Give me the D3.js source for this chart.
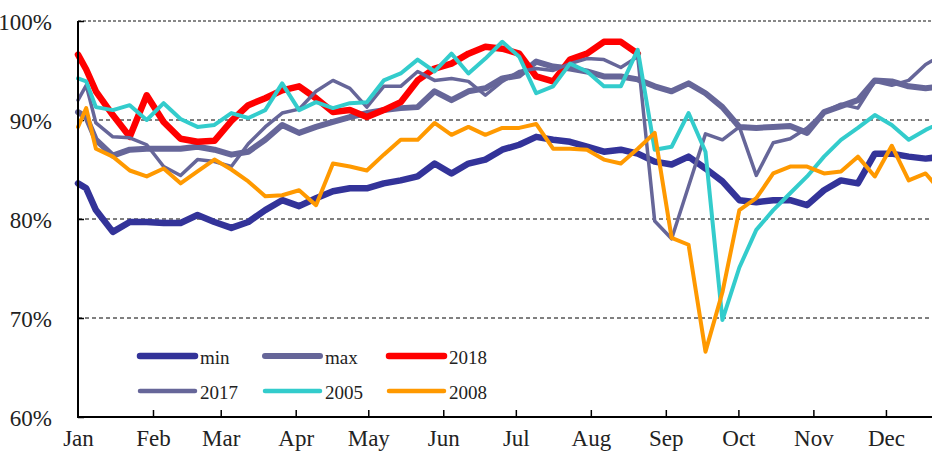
<!DOCTYPE html>
<html>
<head>
<meta charset="utf-8">
<script src="https://cdn.jsdelivr.net/npm/d3@7"></script>
<style>
  html, body { margin: 0; padding: 0; background: #fff; }
  svg { display: block; }
  text { font-family: "Liberation Serif", "DejaVu Serif", serif; fill: #222; }
</style>
</head>
<body>
<svg id="chart" width="932" height="451"></svg>
<script>
// ---------- DATA ----------
const monthLabels = ["Jan","Feb","Mar","Apr","May","Jun","Jul","Aug","Sep","Oct","Nov","Dec"];
const monthStartDays = [0,31,59,90,120,151,181,212,243,273,304,334];
const yTicks = [60,70,80,90,100];

// day-of-year of each weekly observation (first two are partial first-week points)
const obsDays = [0, 3.4, 7.4, 14.4, 21.4, 28.4, 35.4, 42.4, 49.4, 56.4, 63.4, 70.4, 77.4, 84.4,
  91.4, 98.4, 105.4, 112.4, 119.4, 126.4, 133.4, 140.4, 147.4, 154.4, 161.4, 168.4, 175.4,
  182.4, 189.4, 196.4, 203.4, 210.4, 217.4, 224.4, 231.4, 238.4, 245.4, 252.4, 259.4, 266.4,
  273.4, 280.4, 287.4, 294.4, 301.4, 308.4, 315.4, 322.4, 329.4, 336.4, 343.4, 350.4, 357.4];

const minVals = [83.6, 83.1, 80.9, 78.7, 79.7, 79.7, 79.6, 79.6, 80.4, 79.7, 79.1, 79.7, 80.9, 81.9,
  81.3, 82.1, 82.8, 83.1, 83.1, 83.6, 83.9, 84.3, 85.6, 84.6, 85.6, 86.0, 87.0, 87.5, 88.3, 88.0,
  87.8, 87.3, 86.8, 87.0, 86.6, 85.8, 85.5, 86.3, 85.1, 83.8, 81.9, 81.7, 81.9, 81.9, 81.4, 82.9,
  83.9, 83.6, 86.6, 86.6, 86.3, 86.1, 86.3];

const maxVals = [90.8, 90.3, 88.0, 86.4, 87.0, 87.1, 87.1, 87.1, 87.3, 87.0, 86.5, 86.8, 88.0, 89.5,
  88.7, 89.3, 89.8, 90.3, 90.7, 91.0, 91.2, 91.3, 92.9, 92.0, 92.9, 93.2, 94.2, 94.5, 95.9, 95.4,
  95.2, 94.9, 94.4, 94.4, 94.1, 93.4, 92.9, 93.7, 92.7, 91.3, 89.3, 89.2, 89.3, 89.4, 88.7, 90.8,
  91.4, 92.0, 94.0, 93.9, 93.4, 93.2, 93.4];

const vals2018 = [96.6, 95.1, 92.9, 90.5, 88.3, 92.5, 89.8, 88.1, 87.8, 87.9, 89.9, 91.5, 92.2, 93.0,
  93.4, 92.2, 90.8, 91.0, 90.3, 91.0, 91.8, 94.0, 95.2, 95.7, 96.7, 97.4, 97.2, 96.7, 94.4, 93.9,
  96.1, 96.7, 97.9, 97.9, 96.7];

const vals2017 = [92.0, 93.5, 89.7, 88.3, 88.2, 87.5, 85.3, 84.4, 86.0, 85.8, 85.3, 87.6, 89.3, 90.7,
  91.1, 92.9, 94.0, 93.2, 91.3, 93.4, 93.4, 94.9, 94.0, 94.2, 93.9, 92.5, 93.9, 94.9, 95.2, 95.0,
  95.7, 96.2, 96.1, 95.3, 96.4, 79.8, 78.0, 83.3, 88.6, 88.0, 89.3, 84.4, 87.7, 88.1, 89.2, 90.8,
  91.6, 91.2, 93.9, 93.5, 94.0, 95.6, 96.6];

const vals2005 = [94.2, 93.9, 91.3, 91.0, 91.5, 90.0, 91.7, 90.1, 89.3, 89.5, 90.7, 90.2, 91.0, 93.7,
  91.0, 91.8, 91.2, 91.7, 91.8, 94.0, 94.7, 96.1, 94.9, 96.7, 94.7, 96.2, 97.9, 96.4, 92.7, 93.4,
  95.7, 94.9, 93.4, 93.4, 97.1, 87.0, 87.3, 90.7, 86.8, 69.8, 75.1, 78.9, 80.9, 82.6, 84.3, 86.3,
  88.0, 89.2, 90.5, 89.5, 88.0, 89.0, 89.8];

const vals2008 = [89.3, 91.2, 87.1, 86.3, 84.9, 84.3, 85.1, 83.6, 84.8, 86.0, 85.0, 83.8, 82.3, 82.4,
  82.9, 81.4, 85.6, 85.3, 84.9, 86.5, 88.0, 88.0, 89.7, 88.5, 89.3, 88.5, 89.2, 89.2, 89.6, 87.1,
  87.1, 87.0, 86.0, 85.6, 87.1, 88.7, 78.1, 77.4, 66.6, 72.6, 80.9, 82.1, 84.6, 85.3, 85.3, 84.6,
  84.8, 86.3, 84.3, 87.4, 83.9, 84.6, 82.6];

const seriesNames = ["min","max","2018","2017","2005","2008"];
const seriesColors = ["#333399","#666699","#FF0000","#666699","#33CCCC","#FF9900"];
const seriesWidths = [6.5, 6, 6.5, 3.5, 4, 4];

// ---------- CHART ----------
const svg = d3.select("#chart");
const plotLeft = 78, plotTop = 21, plotBottom = 417;
const pxPerDay = 2.419;

const x = d3.scaleLinear().domain([0, 365]).range([plotLeft, plotLeft + 365 * pxPerDay]);
const y = d3.scaleLinear().domain([60, 100]).range([plotBottom, plotTop]);

const series = [minVals, maxVals, vals2018, vals2017, vals2005, vals2008].map((vals, i) => ({
  name: seriesNames[i], color: seriesColors[i], width: seriesWidths[i],
  points: vals.map((v, j) => ({ d: obsDays[j], v }))
}));

// gridlines
svg.append("g").selectAll("line").data(yTicks.filter(t => t > 60 && t < 100)).join("line")
  .attr("x1", plotLeft).attr("x2", 932).attr("y1", d => y(d)).attr("y2", d => y(d))
  .attr("stroke", "#000").attr("stroke-width", 1).attr("stroke-dasharray", "4,3");
// top border (100%)
svg.append("line").attr("x1", plotLeft).attr("x2", 932).attr("y1", y(100)).attr("y2", y(100))
  .attr("stroke", "#888").attr("stroke-width", 2).attr("stroke-dasharray", "3,2");

// y axis labels + ticks
const yAxis = d3.axisLeft(y).tickValues(yTicks).tickFormat(d => d + "%").tickSizeInner(-6).tickSizeOuter(0).tickPadding(26);
const gy = svg.append("g").attr("transform", `translate(${plotLeft},0)`).call(yAxis);
gy.select(".domain").remove();
gy.selectAll(".tick line").attr("stroke", "#000").attr("stroke-width", 1.5);
gy.selectAll(".tick text").attr("font-size", 23).attr("fill", "#222")
  .attr("font-family", '"Liberation Serif", serif').attr("dy", "0.38em");

// x axis
const xAxis = d3.axisBottom(x).tickValues(monthStartDays).tickFormat((d, i) => monthLabels[i])
  .tickSizeInner(-7).tickSizeOuter(0).tickPadding(13);
const gx = svg.append("g").attr("transform", `translate(0,${plotBottom})`).call(xAxis);
gx.select(".domain").remove();
gx.selectAll(".tick line").attr("stroke", "#000").attr("stroke-width", 1.5)
  .filter(d => d === 0).remove();
gx.selectAll(".tick text").attr("font-size", 23).attr("fill", "#222")
  .attr("font-family", '"Liberation Serif", serif');

// lines
const line = d3.line().x(p => x(p.d)).y(p => y(p.v));
svg.append("g").selectAll("path").data(series).join("path")
  .attr("d", s => line(s.points))
  .attr("fill", "none").attr("stroke", s => s.color).attr("stroke-width", s => s.width)
  .attr("stroke-linejoin", "round").attr("stroke-linecap", "round");

// axis lines
svg.append("line").attr("x1", plotLeft).attr("x2", plotLeft).attr("y1", y(100)).attr("y2", plotBottom + 1)
  .attr("stroke", "#000").attr("stroke-width", 2);
svg.append("line").attr("x1", plotLeft - 1).attr("x2", 932).attr("y1", plotBottom).attr("y2", plotBottom)
  .attr("stroke", "#000").attr("stroke-width", 2);

// legend
const legCols = [140, 265, 389];
const legRows = [356, 391];
const leg = svg.append("g").selectAll("g").data(series).join("g")
  .attr("transform", (s, i) => `translate(${legCols[i % 3]},${legRows[Math.floor(i / 3)]})`);
leg.append("line").attr("x1", 0).attr("x2", 55).attr("y1", 0).attr("y2", 0)
  .attr("stroke", s => s.color).attr("stroke-width", s => Math.max(s.width, 4.5)).attr("stroke-linecap", "round");
leg.append("text").attr("x", 60).attr("y", 8).attr("font-size", 19).text(s => s.name);
</script>
</body>
</html>
